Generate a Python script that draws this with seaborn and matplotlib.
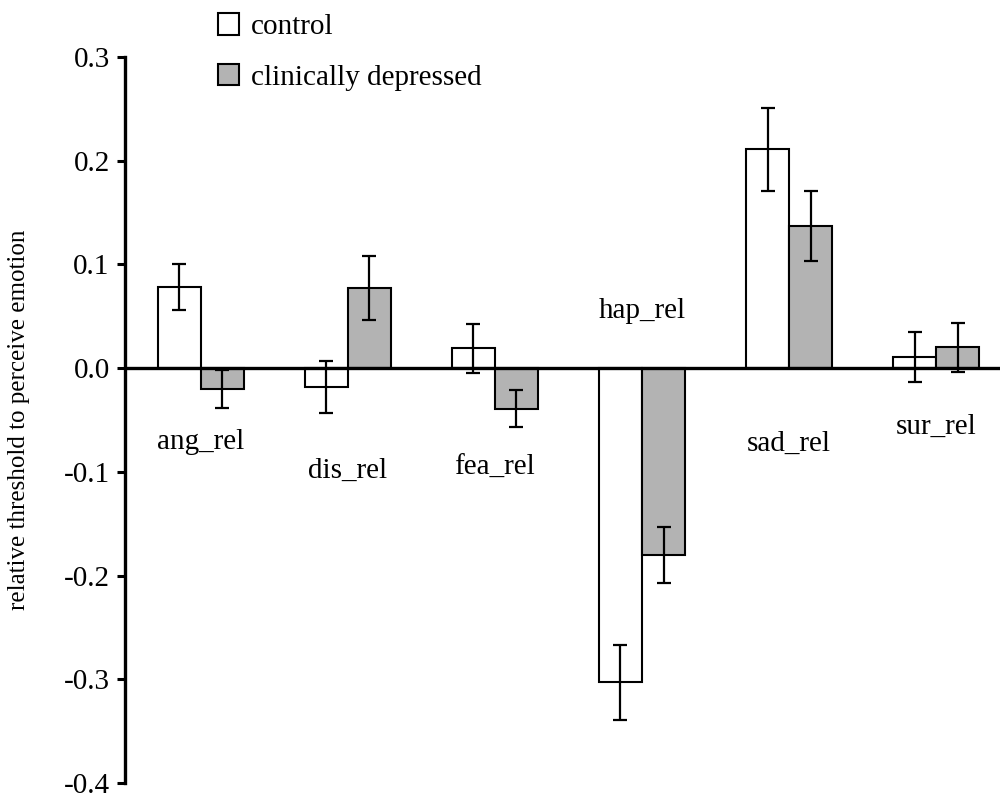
import numpy as np
import pandas as pd
import matplotlib
matplotlib.use("Agg")
import matplotlib.pyplot as plt
import seaborn as sns
from matplotlib.patches import Patch

# Mean relative thresholds and standard errors per emotion
emotions = ["ang_rel", "dis_rel", "fea_rel", "hap_rel", "sad_rel", "sur_rel"]
groups = ["control", "clinically depressed"]
control_mean = [0.078, -0.018, 0.019, -0.303, 0.211, 0.011]
control_err = [0.022, 0.025, 0.024, 0.036, 0.040, 0.024]
depressed_mean = [-0.020, 0.077, -0.039, -0.180, 0.137, 0.020]
depressed_err = [0.018, 0.031, 0.018, 0.027, 0.034, 0.024]
yticks = [-0.4, -0.3, -0.2, -0.1, 0.0, 0.1, 0.2, 0.3]

df = pd.DataFrame({
    "emotion": emotions * 2,
    "group": [groups[0]] * len(emotions) + [groups[1]] * len(emotions),
    "value": control_mean + depressed_mean,
    "err": control_err + depressed_err,
})

sns.set_style("ticks", {"axes.edgecolor": "black", "text.color": "black",
                        "ytick.color": "black", "axes.labelcolor": "black"})
plt.rcParams["font.family"] = ["Liberation Serif", "DejaVu Serif"]

fig = plt.figure(figsize=(10.02, 8.01), dpi=100)
ax = fig.add_axes([125 / 1002, 1 - 783 / 801, (1000 - 125) / 1002, (783 - 57) / 801])

palette = {"control": "white", "clinically depressed": "#b3b3b3"}
sns.barplot(data=df, x="emotion", y="value", hue="group", order=emotions,
            hue_order=groups, palette=palette, edgecolor="black", linewidth=1.5,
            width=0.585, errorbar=None, legend=False, ax=ax)

# error bars at the centre of each drawn bar
bars = ax.patches[:2 * len(emotions)]
xs = [b.get_x() + b.get_width() / 2 for b in bars]
ax.errorbar(xs, df["value"], yerr=df["err"], fmt="none", ecolor="black",
            elinewidth=1.6, capsize=4.7, capthick=1.6, zorder=5)

ax.axhline(0, color="black", lw=2.4, zorder=6)

ax.set_xlim(-0.515, 5.434)
ax.set_ylim(-0.4, 0.3)
ax.set_yticks(yticks)
ax.set_yticklabels([f"{t:.1f}" for t in yticks], fontsize=21)
ax.tick_params(axis="y", direction="out", length=6, width=2.2, pad=5, colors="black")
ax.set_xticks([])
ax.set_xlabel("")
ax.set_ylabel("relative threshold to perceive emotion", fontsize=18, labelpad=24)
for s in ["top", "right", "bottom"]:
    ax.spines[s].set_visible(False)
ax.spines["left"].set_linewidth(2.4)
ax.spines["left"].set_color("black")
ax.patch.set_alpha(0)

# category names placed beside their bar pairs
label_y = [-0.078, -0.106, -0.103, 0.048, -0.080, -0.063]
for i, (name, y) in enumerate(zip(emotions, label_y)):
    ax.text(i, y, name, ha="center", va="baseline", fontsize=21)

handles = [Patch(facecolor=palette[g], edgecolor="black", linewidth=1.5) for g in groups]
fig.legend(handles, groups, loc="upper left", bbox_to_anchor=(200 / 1002, 1.005),
           frameon=False, fontsize=21, handlelength=0.75, handleheight=0.75,
           handletextpad=0.4, labelspacing=0.8, borderaxespad=0.2)

fig.savefig("out.png", dpi=100, facecolor="white")
